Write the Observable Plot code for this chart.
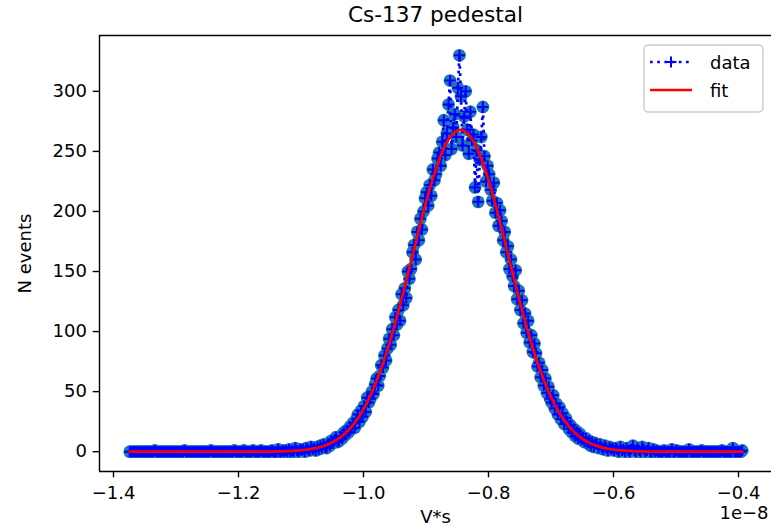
<!DOCTYPE html>
<html>
<head>
<meta charset="utf-8">
<script src="https://cdn.jsdelivr.net/npm/d3@7"></script>
<script src="https://cdn.jsdelivr.net/npm/@observablehq/plot@0.6"></script>
<style>
  html, body { margin: 0; padding: 0; background: #fff; }
  #wrap { position: relative; width: 771px; height: 531px; overflow: hidden; font-family: "DejaVu Sans", sans-serif; color: #000; }
  #title { margin-left: 99px; width: 673px; height: 30px; line-height: 30px; text-align: center; font-size: 21.6px; white-space: nowrap; }
  #chart svg { display: block; }
  #legend { position: absolute; left: 643px; top: 44px; overflow: visible; }
</style>
</head>
<body>
<div id="wrap">
  <div id="title">Cs-137 pedestal</div>
  <div id="chart"></div>
  <svg id="legend" width="122" height="70">
    <rect x="1" y="1" width="119" height="67" rx="4" ry="4" fill="#fff" fill-opacity="0.8" stroke="#cccccc" stroke-width="1.4"></rect>
    <line x1="7" y1="18" x2="49" y2="18" stroke="blue" stroke-width="2.7" stroke-dasharray="2.7,4.5"></line>
    <path d="M22.5,18h11M28,12.5v11" stroke="blue" stroke-width="2" fill="none"></path>
    <text x="67" y="24.5" font-family="DejaVu Sans" font-size="18" fill="#000">data</text>
    <line x1="7" y1="46" x2="49" y2="46" stroke="red" stroke-width="2.7"></line>
    <text x="67" y="52.5" font-family="DejaVu Sans" font-size="18" fill="#000">fit</text>
  </svg>
</div>
<script>
// Data bin centres, in units of 1e-8 V*s
const dataX = [
  -1.374,-1.3715,-1.369,-1.3665,-1.364,-1.3615,-1.359,-1.3565,-1.354,-1.3515,
  -1.349,-1.3465,-1.344,-1.3415,-1.339,-1.3365,-1.334,-1.3315,-1.329,-1.3265,
  -1.324,-1.3215,-1.319,-1.3165,-1.314,-1.3115,-1.309,-1.3065,-1.304,-1.3015,
  -1.299,-1.2965,-1.294,-1.2915,-1.289,-1.2865,-1.284,-1.2815,-1.279,-1.2765,
  -1.274,-1.2715,-1.269,-1.2665,-1.264,-1.2615,-1.259,-1.2565,-1.254,-1.2515,
  -1.249,-1.2465,-1.244,-1.2415,-1.239,-1.2365,-1.234,-1.2315,-1.229,-1.2265,
  -1.224,-1.2215,-1.219,-1.2165,-1.214,-1.2115,-1.209,-1.2065,-1.204,-1.2015,
  -1.199,-1.1965,-1.194,-1.1915,-1.189,-1.1865,-1.184,-1.1815,-1.179,-1.1765,
  -1.174,-1.1715,-1.169,-1.1665,-1.164,-1.1615,-1.159,-1.1565,-1.154,-1.1515,
  -1.149,-1.1465,-1.144,-1.1415,-1.139,-1.1365,-1.134,-1.1315,-1.129,-1.1265,
  -1.124,-1.1215,-1.119,-1.1165,-1.114,-1.1115,-1.109,-1.1065,-1.104,-1.1015,
  -1.099,-1.0965,-1.094,-1.0915,-1.089,-1.0865,-1.084,-1.0815,-1.079,-1.0765,
  -1.074,-1.0715,-1.069,-1.0665,-1.064,-1.0615,-1.059,-1.0565,-1.054,-1.0515,
  -1.049,-1.0465,-1.044,-1.0415,-1.039,-1.0365,-1.034,-1.0315,-1.029,-1.0265,
  -1.024,-1.0215,-1.019,-1.0165,-1.014,-1.0115,-1.009,-1.0065,-1.004,-1.0015,
  -0.999,-0.9965,-0.994,-0.9915,-0.989,-0.9865,-0.984,-0.9815,-0.979,-0.9765,
  -0.974,-0.9715,-0.969,-0.9665,-0.964,-0.9615,-0.959,-0.9565,-0.954,-0.9515,
  -0.949,-0.9465,-0.944,-0.9415,-0.939,-0.9365,-0.934,-0.9315,-0.929,-0.9265,
  -0.924,-0.9215,-0.919,-0.9165,-0.914,-0.9115,-0.909,-0.9065,-0.904,-0.9015,
  -0.899,-0.8965,-0.894,-0.8915,-0.889,-0.8865,-0.884,-0.8815,-0.879,-0.8765,
  -0.874,-0.8715,-0.869,-0.8665,-0.864,-0.8615,-0.859,-0.8565,-0.854,-0.8515,
  -0.849,-0.8465,-0.844,-0.8415,-0.839,-0.8365,-0.834,-0.8315,-0.829,-0.8265,
  -0.824,-0.8215,-0.819,-0.8165,-0.814,-0.8115,-0.809,-0.8065,-0.804,-0.8015,
  -0.799,-0.7965,-0.794,-0.7915,-0.789,-0.7865,-0.784,-0.7815,-0.779,-0.7765,
  -0.774,-0.7715,-0.769,-0.7665,-0.764,-0.7615,-0.759,-0.7565,-0.754,-0.7515,
  -0.749,-0.7465,-0.744,-0.7415,-0.739,-0.7365,-0.734,-0.7315,-0.729,-0.7265,
  -0.724,-0.7215,-0.719,-0.7165,-0.714,-0.7115,-0.709,-0.7065,-0.704,-0.7015,
  -0.699,-0.6965,-0.694,-0.6915,-0.689,-0.6865,-0.684,-0.6815,-0.679,-0.6765,
  -0.674,-0.6715,-0.669,-0.6665,-0.664,-0.6615,-0.659,-0.6565,-0.654,-0.6515,
  -0.649,-0.6465,-0.644,-0.6415,-0.639,-0.6365,-0.634,-0.6315,-0.629,-0.6265,
  -0.624,-0.6215,-0.619,-0.6165,-0.614,-0.6115,-0.609,-0.6065,-0.604,-0.6015,
  -0.599,-0.5965,-0.594,-0.5915,-0.589,-0.5865,-0.584,-0.5815,-0.579,-0.5765,
  -0.574,-0.5715,-0.569,-0.5665,-0.564,-0.5615,-0.559,-0.5565,-0.554,-0.5515,
  -0.549,-0.5465,-0.544,-0.5415,-0.539,-0.5365,-0.534,-0.5315,-0.529,-0.5265,
  -0.524,-0.5215,-0.519,-0.5165,-0.514,-0.5115,-0.509,-0.5065,-0.504,-0.5015,
  -0.499,-0.4965,-0.494,-0.4915,-0.489,-0.4865,-0.484,-0.4815,-0.479,-0.4765,
  -0.474,-0.4715,-0.469,-0.4665,-0.464,-0.4615,-0.459,-0.4565,-0.454,-0.4515,
  -0.449,-0.4465,-0.444,-0.4415,-0.439,-0.4365,-0.434,-0.4315,-0.429,-0.4265,
  -0.424,-0.4215,-0.419,-0.4165,-0.414,-0.4115,-0.409,-0.4065,-0.404,-0.4015,
  -0.399,-0.3965,-0.394
];

// Observed counts per bin ("data")
const counts = [
  0,0,0,0,0,0,0,0,0,0,
  0,0,0,0,0,0,1,0,0,0,
  0,0,0,0,0,0,0,0,0,0,
  0,0,0,0,0,1,0,0,0,0,
  0,0,0,0,0,0,0,0,0,0,
  0,0,1,0,0,0,0,0,0,0,
  0,0,0,0,0,0,0,1,0,0,
  0,0,0,1,0,0,0,0,0,1,
  0,0,0,0,1,0,0,0,0,0,
  0,1,0,0,0,2,0,0,1,0,
  1,0,2,0,1,0,3,1,0,2,
  1,2,0,3,2,1,4,2,3,1,
  4,2,5,3,6,4,3,7,5,9,
  7,10,12,8,9,13,11,16,14,18,
  16,21,19,24,20,27,31,25,34,29,
  38,33,45,41,44,50,48,56,61,55,
  63,72,70,80,76,86,94,89,102,97,
  112,106,118,109,131,122,136,128,150,144,
  152,166,172,160,183,176,194,185,200,211,
  216,205,222,213,235,226,231,244,249,238,
  258,276,247,265,289,309,252,270,281,262,
  303,330,296,255,279,300,268,248,283,259,
  264,220,251,208,243,262,287,246,225,238,
  231,218,209,224,199,207,188,201,192,176,
  183,166,171,152,160,146,138,151,127,134,
  118,126,107,115,99,109,91,97,83,90,
  82,71,74,62,68,55,61,49,54,44,
  41,47,36,40,31,37,27,32,23,28,
  25,19,22,16,19,13,17,11,15,10,
  12,8,11,7,9,5,8,4,7,6,
  3,6,4,2,5,3,1,4,2,3,
  1,3,2,0,4,1,2,0,3,1,
  0,2,5,1,0,3,1,0,4,2,
  0,1,3,0,0,2,0,1,0,0,
  0,0,1,0,0,0,0,2,0,0,
  1,0,0,0,0,0,0,0,2,0,
  0,0,0,0,0,0,1,0,0,0,
  0,0,0,0,0,0,0,0,0,1,
  0,0,0,0,0,0,3,0,0,0,
  0,0,1
];

// Fitted curve, sampled along x (units of 1e-8 V*s)
const fitX = [
  -1.374,-1.369,-1.364,-1.359,-1.354,-1.349,-1.344,-1.339,-1.334,-1.329,
  -1.324,-1.319,-1.314,-1.309,-1.304,-1.299,-1.294,-1.289,-1.284,-1.279,
  -1.274,-1.269,-1.264,-1.259,-1.254,-1.249,-1.244,-1.239,-1.234,-1.229,
  -1.224,-1.219,-1.214,-1.209,-1.204,-1.199,-1.194,-1.189,-1.184,-1.179,
  -1.174,-1.169,-1.164,-1.159,-1.154,-1.149,-1.144,-1.139,-1.134,-1.129,
  -1.124,-1.119,-1.114,-1.109,-1.104,-1.099,-1.094,-1.089,-1.084,-1.079,
  -1.074,-1.069,-1.064,-1.059,-1.054,-1.049,-1.044,-1.039,-1.034,-1.029,
  -1.024,-1.019,-1.014,-1.009,-1.004,-0.999,-0.994,-0.989,-0.984,-0.979,
  -0.974,-0.969,-0.964,-0.959,-0.954,-0.949,-0.944,-0.939,-0.934,-0.929,
  -0.924,-0.919,-0.914,-0.909,-0.904,-0.899,-0.894,-0.889,-0.884,-0.879,
  -0.874,-0.869,-0.864,-0.859,-0.854,-0.849,-0.844,-0.839,-0.834,-0.829,
  -0.824,-0.819,-0.814,-0.809,-0.804,-0.799,-0.794,-0.789,-0.784,-0.779,
  -0.774,-0.769,-0.764,-0.759,-0.754,-0.749,-0.744,-0.739,-0.734,-0.729,
  -0.724,-0.719,-0.714,-0.709,-0.704,-0.699,-0.694,-0.689,-0.684,-0.679,
  -0.674,-0.669,-0.664,-0.659,-0.654,-0.649,-0.644,-0.639,-0.634,-0.629,
  -0.624,-0.619,-0.614,-0.609,-0.604,-0.599,-0.594,-0.589,-0.584,-0.579,
  -0.574,-0.569,-0.564,-0.559,-0.554,-0.549,-0.544,-0.539,-0.534,-0.529,
  -0.524,-0.519,-0.514,-0.509,-0.504,-0.499,-0.494,-0.489,-0.484,-0.479,
  -0.474,-0.469,-0.464,-0.459,-0.454,-0.449,-0.444,-0.439,-0.434,-0.429,
  -0.424,-0.419,-0.414,-0.409,-0.404,-0.399,-0.394
];
const fitY = [
  0,0,0,0,0,0,0,0,0,0,
  0,0,0,0,0,0,0,0,0,0,
  0,0,0,0,0,0,0,0,0,0,
  0,0,0,0,0,0,0,0,0,0,
  0,0,0,0,0,0,0.1,0.2,0.2,0.3,
  0.4,0.5,0.6,0.8,0.9,1.2,1.4,1.8,2.2,2.7,
  3.2,3.9,4.7,5.6,6.7,8.0,9.5,11.2,13.2,15.4,
  18.0,20.9,24.1,27.7,31.8,36.3,41.2,46.6,52.6,59.0,
  65.9,73.3,81.2,89.6,98.4,107.7,117.3,127.2,137.4,147.8,
  158.3,168.9,179.4,189.7,199.8,209.6,218.9,227.6,235.7,243.1,
  249.6,255.3,260.0,263.6,266.2,267.6,268.0,267.2,265.3,262.3,
  258.2,253.1,247.1,240.3,232.6,224.2,215.2,205.7,195.8,185.6,
  175.2,164.7,154.1,143.6,133.3,123.2,113.4,103.9,94.8,86.2,
  78.0,70.3,63.0,56.3,50.1,44.4,39.2,34.4,30.1,26.2,
  22.8,19.7,16.9,14.5,12.4,10.5,8.9,7.5,6.3,5.2,
  4.4,3.6,3.0,2.4,2.0,1.6,1.3,1.1,0.9,0.7,
  0.6,0.4,0.3,0.3,0.2,0.1,0,0,0,0,
  0,0,0,0,0,0,0,0,0,0,
  0,0,0,0,0,0,0,0,0,0,
  0,0,0,0,0,0,0
];

const xTicks = [-1.4, -1.2, -1.0, -0.8, -0.6, -0.4];
const yTicks = [0, 50, 100, 150, 200, 250, 300];
const xDomain = [-1.4224, -0.3472];
const yDomain = [-16.5, 346.5];

const data = dataX.map((x, i) => ({x, y: counts[i]}));
const fit = fitX.map((x, i) => ({x, y: fitY[i]}));

const fmt = d => d.toFixed(1).replace("-", "\u2212");
const plusSymbol = {
  draw(context) {
    const h = 5.5;
    context.moveTo(-h, 0); context.lineTo(h, 0);
    context.moveTo(0, -h); context.lineTo(0, h);
  }
};

const chart = Plot.plot({
  width: 771,
  height: 501,
  marginLeft: 99,
  marginRight: 0,
  marginTop: 5,
  marginBottom: 60,
  style: {fontFamily: "DejaVu Sans", fontSize: "18px", color: "#000", background: "transparent", overflow: "visible"},
  x: {domain: xDomain},
  y: {domain: yDomain},
  marks: [
    Plot.axisX({ticks: xTicks, tickFormat: fmt, tickSize: 6.3, tickPadding: 8, strokeWidth: 1.4, label: null, fontSize: 18}),
    Plot.axisY({ticks: yTicks, tickSize: 6.3, tickPadding: 6.3, strokeWidth: 1.4, label: null, fontSize: 18}),
    Plot.dot(data, {x: "x", y: "y", r: 6.4, fill: "#1f77b4", stroke: "none"}),
    Plot.line(data, {x: "x", y: "y", stroke: "blue", strokeWidth: 2.7, strokeDasharray: "2.7,4.5", strokeLinecap: "butt"}),
    Plot.dot(data, {x: "x", y: "y", symbol: plusSymbol, stroke: "blue", strokeWidth: 2, fill: "none"}),
    Plot.line(fit, {x: "x", y: "y", stroke: "red", strokeWidth: 2.7}),
    Plot.ruleY([yDomain[0]], {stroke: "#000", strokeWidth: 1.4}),
    Plot.ruleY([yDomain[1]], {stroke: "#000", strokeWidth: 1.4}),
    Plot.ruleX([xDomain[0]], {stroke: "#000", strokeWidth: 1.4}),
    Plot.text(["V*s"], {frameAnchor: "bottom", textAnchor: "middle", dy: 51, fontSize: 18, fill: "#000"}),
    Plot.text(["1e\u22128"], {frameAnchor: "bottom-right", textAnchor: "end", dx: -3, dy: 47, fontSize: 18, fill: "#000"}),
    Plot.text(["N events"], {frameAnchor: "left", textAnchor: "middle", rotate: -90, dx: -74, fontSize: 18, fill: "#000"})
  ]
});
document.getElementById("chart").appendChild(chart);
</script>
</body>
</html>
